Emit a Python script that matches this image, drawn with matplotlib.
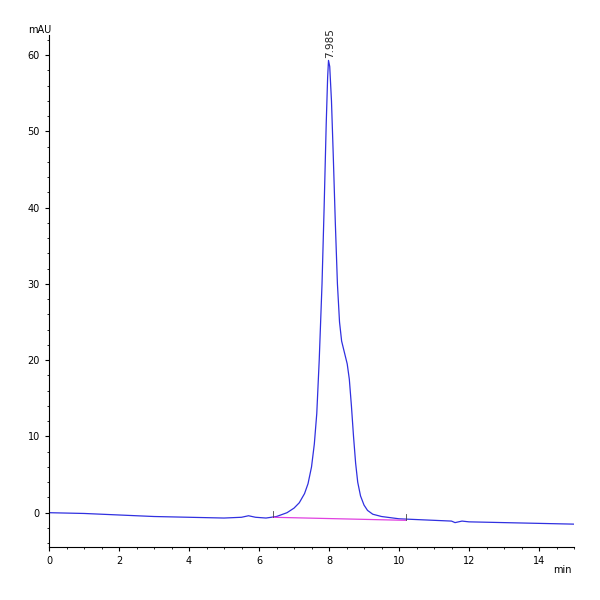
import matplotlib
matplotlib.use("Agg")
import matplotlib.pyplot as plt

t = [0, 1, 2, 3, 4, 5, 5.5, 5.7, 5.9, 6.2, 6.5, 6.8, 7.0, 7.15, 7.3, 7.4, 7.5, 7.58, 7.65, 7.72, 7.8, 7.86, 7.92, 7.96, 7.985,
     8.02, 8.07, 8.12, 8.18, 8.24, 8.3, 8.36, 8.44, 8.52, 8.58, 8.64, 8.7, 8.76, 8.82, 8.9, 9.0, 9.1, 9.25, 9.5, 10, 11, 11.5, 11.6, 11.8, 12, 13, 14, 15]
mau = [0, -0.1, -0.3, -0.5, -0.6, -0.7, -0.6, -0.4, -0.6, -0.7, -0.5, 0, 0.6, 1.3, 2.5, 3.8, 6, 9, 13, 20, 30, 40, 51, 57, 59.3,
       58.5, 54, 47, 38, 30, 25, 22.5, 21, 19.5, 17.5, 14, 10, 6.5, 4, 2.2, 1.0, 0.3, -0.2, -0.5, -0.8, -1.0, -1.1, -1.3, -1.1, -1.2, -1.3, -1.4, -1.5]
base_t = [6.4, 10.2]
base_y = [-0.6, -1.0]
peak_t, peak_y, peak_label = 7.985, 59.3, "7.985"

fig = plt.figure(figsize=(6, 6), dpi=100)
ax = fig.add_axes([0.0817, 0.0883, 0.875, 0.853])
ax.plot(t, mau, color="#3030e0", lw=0.9)
ax.plot(base_t, base_y, color="#e040e0", lw=0.9)
for bt, by in zip(base_t, base_y):
    ax.plot([bt, bt], [by, by + 0.8], color="#444444", lw=0.6)
ax.text(peak_t + 0.05, peak_y + 0.3, peak_label, rotation=90, ha="center", va="bottom", fontsize=7.5, color="#222222")
ax.set_xlim(0, 15)
ax.set_ylim(-4.5, 62.6)
ax.set_xticks(range(0, 15, 2))
ax.set_yticks(range(0, 61, 10))
ax.xaxis.set_minor_locator(matplotlib.ticker.MultipleLocator(0.5))
ax.yaxis.set_minor_locator(matplotlib.ticker.MultipleLocator(2))
ax.tick_params(labelsize=7, length=3, direction="out")
ax.tick_params(which="minor", length=1.5)
for s in ["top", "right"]:
    ax.spines[s].set_visible(False)
ax.text(-0.04, 1.0, "mAU", transform=ax.transAxes, fontsize=7, ha="left", va="bottom")
ax.text(0.995, -0.035, "min", transform=ax.transAxes, fontsize=7, ha="right", va="top")
fig.savefig("out.png")
